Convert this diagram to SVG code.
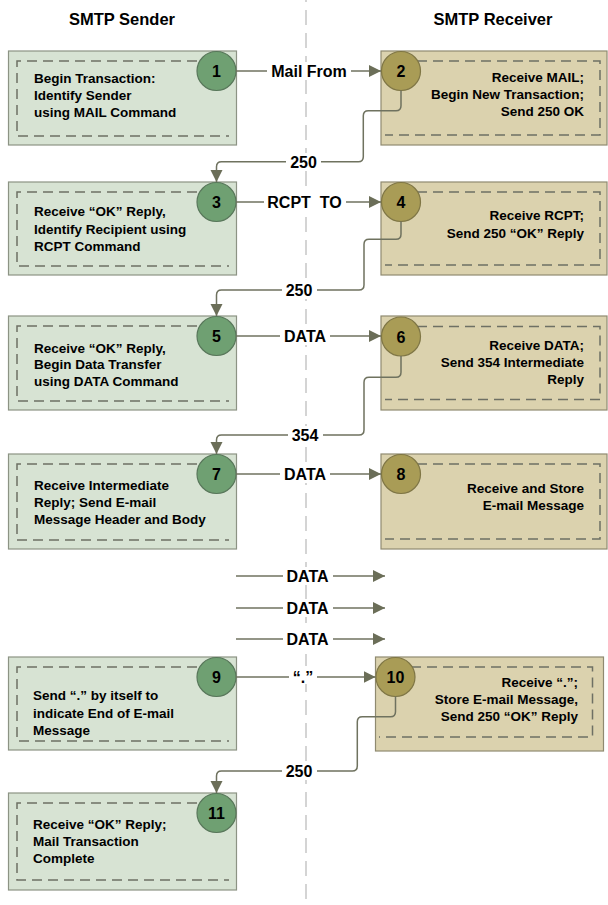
<svg xmlns="http://www.w3.org/2000/svg" width="608" height="905" viewBox="0 0 608 905">
<defs>
<style>
text{font-family:"Liberation Sans",Arial,sans-serif;font-weight:bold;fill:#000}
.title{font-size:16.5px;text-anchor:middle}
.lbl{font-size:16px;text-anchor:middle}
.bt{font-size:13.5px}
.rt{font-size:13.5px;text-anchor:end}
.num{font-size:16px;text-anchor:middle}
.lbox{fill:#d7e3d3;stroke:#8c9384;stroke-width:1.2}
.rbox{fill:#dbd2ae;stroke:#8f8a70;stroke-width:1.2}
.inner{fill:none;stroke:#6e7064;stroke-width:1.5;stroke-dasharray:10 6}
.lc{fill:#6fa072;stroke:#58775a;stroke-width:1.2}
.rc{fill:#a99c56;stroke:#7f7645;stroke-width:1.2}
.con{fill:none;stroke:#6f725f;stroke-width:1.5}
.bg{fill:#fff}
</style>
<marker id="ah" markerUnits="userSpaceOnUse" markerWidth="13" markerHeight="13" refX="12" refY="6" orient="auto">
<path d="M0,0 L12,6 L0,12 z" fill="#6b6e58"/>
</marker>
</defs>
<rect width="608" height="905" fill="#fff"/>
<line x1="306" y1="0" x2="306" y2="905" stroke="#c6c6c6" stroke-width="1.5" stroke-dasharray="15 8" stroke-dashoffset="13"/>
<text class="title" x="122" y="25">SMTP Sender</text>
<text class="title" x="493" y="25">SMTP Receiver</text>

<g id="node1">
<rect class="lbox" x="8.5" y="51" width="228" height="94"/>
<path class="inner" d="M229,61 H17 V136 H229"/>
<circle class="lc" cx="216.5" cy="71" r="19.5"/>
<text class="num" x="216.5" y="77">1</text>
<text class="bt" x="34" y="83">Begin Transaction:</text>
<text class="bt" x="34" y="100">Identify Sender</text>
<text class="bt" x="34" y="117">using MAIL Command</text>
</g>
<g id="node2">
<rect class="rbox" x="381" y="51" width="226" height="94"/>
<path class="inner" d="M385,61 H600 V135 H385"/>
<circle class="rc" cx="401" cy="71" r="19.5"/>
<text class="num" x="401" y="77">2</text>
<text class="rt" x="584" y="82">Receive MAIL;</text>
<text class="rt" x="584" y="99">Begin New Transaction;</text>
<text class="rt" x="584" y="116">Send 250 OK</text>
</g>
<g id="node3">
<rect class="lbox" x="8.5" y="182" width="228" height="93"/>
<path class="inner" d="M229,192 H17 V266 H229"/>
<circle class="lc" cx="216.5" cy="202" r="19.5"/>
<text class="num" x="216.5" y="208">3</text>
<text class="bt" x="34" y="216">Receive “OK” Reply,</text>
<text class="bt" x="34" y="233.5">Identify Recipient using</text>
<text class="bt" x="34" y="251">RCPT Command</text>
</g>
<g id="node4">
<rect class="rbox" x="381" y="182" width="226" height="93"/>
<path class="inner" d="M385,192 H600 V265 H385"/>
<circle class="rc" cx="401" cy="202" r="19.5"/>
<text class="num" x="401" y="208">4</text>
<text class="rt" x="584" y="220">Receive RCPT;</text>
<text class="rt" x="584" y="238">Send 250 “OK” Reply</text>
</g>
<g id="node5">
<rect class="lbox" x="8.5" y="316" width="228" height="94"/>
<path class="inner" d="M229,326 H17 V401 H229"/>
<circle class="lc" cx="216.5" cy="336" r="19.5"/>
<text class="num" x="216.5" y="342">5</text>
<text class="bt" x="34" y="352.5">Receive “OK” Reply,</text>
<text class="bt" x="34" y="369">Begin Data Transfer</text>
<text class="bt" x="34" y="385.5">using DATA Command</text>
</g>
<g id="node6">
<rect class="rbox" x="381" y="316" width="226" height="94"/>
<path class="inner" d="M385,326.5 H600 V399.5 H385"/>
<circle class="rc" cx="401" cy="336.5" r="19.5"/>
<text class="num" x="401" y="342.5">6</text>
<text class="rt" x="584" y="350">Receive DATA;</text>
<text class="rt" x="584" y="367">Send 354 Intermediate</text>
<text class="rt" x="584" y="384">Reply</text>
</g>
<g id="node7">
<rect class="lbox" x="8.5" y="454" width="228" height="95"/>
<path class="inner" d="M229,464 H17 V540 H229"/>
<circle class="lc" cx="216.5" cy="474" r="19.5"/>
<text class="num" x="216.5" y="480">7</text>
<text class="bt" x="34" y="489.5">Receive Intermediate</text>
<text class="bt" x="34" y="506.5">Reply; Send E-mail</text>
<text class="bt" x="34" y="523.5">Message Header and Body</text>
</g>
<g id="node8">
<rect class="rbox" x="381" y="454" width="226" height="95"/>
<path class="inner" d="M385,464 H600 V539 H385"/>
<circle class="rc" cx="401" cy="474" r="19.5"/>
<text class="num" x="401" y="480">8</text>
<text class="rt" x="584" y="492.5">Receive and Store</text>
<text class="rt" x="584" y="509.5">E-mail Message</text>
</g>
<g id="node9">
<rect class="lbox" x="8.5" y="657" width="228" height="93"/>
<path class="inner" d="M229,667 H17 V741 H229"/>
<circle class="lc" cx="216.5" cy="677" r="19.5"/>
<text class="num" x="216.5" y="683">9</text>
<text class="bt" x="33" y="700">Send “.” by itself to</text>
<text class="bt" x="33" y="717.5">indicate End of E-mail</text>
<text class="bt" x="33" y="735">Message</text>
</g>
<g id="node10">
<rect class="rbox" x="375.5" y="657" width="228" height="94"/>
<path class="inner" d="M379,667 H592.5 V737 H379"/>
<circle class="rc" cx="395.5" cy="677" r="19.5"/>
<text class="num" x="395.5" y="683">10</text>
<text class="rt" x="578" y="687">Receive “.”;</text>
<text class="rt" x="578" y="703.5">Store E-mail Message,</text>
<text class="rt" x="578" y="720.5">Send 250 “OK” Reply</text>
</g>
<g id="node11">
<rect class="lbox" x="8.5" y="793" width="228" height="97"/>
<path class="inner" d="M229,803 H17 V880 H229"/>
<circle class="lc" cx="216.5" cy="813" r="19.5"/>
<text class="num" x="216.5" y="819">11</text>
<text class="bt" x="33" y="828.5">Receive “OK” Reply;</text>
<text class="bt" x="33" y="845.5">Mail Transaction</text>
<text class="bt" x="33" y="862.5">Complete</text>
</g>

<g id="connectors">
<path class="con" d="M236,71 H381" marker-end="url(#ah)"/>
<path class="con" d="M236,202 H381" marker-end="url(#ah)"/>
<path class="con" d="M236,336 H381" marker-end="url(#ah)"/>
<path class="con" d="M236,474 H381" marker-end="url(#ah)"/>
<path class="con" d="M236,576 H385" marker-end="url(#ah)"/>
<path class="con" d="M236,608 H385" marker-end="url(#ah)"/>
<path class="con" d="M236,639 H385" marker-end="url(#ah)"/>
<path class="con" d="M236,677 H375.5" marker-end="url(#ah)"/>
<path class="con" d="M401,90.5 V105.7 Q401,110.7 396,110.7 H368.3 Q363.3,110.7 363.3,115.7 V156.7 Q363.3,161.7 358.3,161.7 H221.5 Q216.5,161.7 216.5,166.7 V182" marker-end="url(#ah)"/>
<path class="con" d="M401,221.5 V234.3 Q401,239.3 396,239.3 H369 Q364,239.3 364,244.3 V285 Q364,290 359,290 H221.5 Q216.5,290 216.5,295 V316" marker-end="url(#ah)"/>
<path class="con" d="M401,356 V372.3 Q401,377.3 396,377.3 H369 Q364,377.3 364,382.3 V430 Q364,435 359,435 H221.5 Q216.5,435 216.5,440 V454" marker-end="url(#ah)"/>
<path class="con" d="M395.5,696.5 V711.7 Q395.5,716.7 390.5,716.7 H362.3 Q357.3,716.7 357.3,721.7 V766 Q357.3,771 352.3,771 H221.5 Q216.5,771 216.5,776 V793" marker-end="url(#ah)"/>
<rect class="bg" x="267" y="62" width="84" height="18"/>
<text class="lbl" x="309" y="77">Mail From</text>
<rect class="bg" x="264" y="193" width="82" height="18"/>
<text class="lbl" x="304.5" y="208">RCPT&#160; TO</text>
<rect class="bg" x="280" y="327" width="50" height="18"/>
<text class="lbl" x="305" y="342">DATA</text>
<rect class="bg" x="280" y="465" width="50" height="18"/>
<text class="lbl" x="305" y="480">DATA</text>
<rect class="bg" x="283" y="567" width="50" height="18"/>
<text class="lbl" x="307.5" y="582">DATA</text>
<rect class="bg" x="283" y="599" width="50" height="18"/>
<text class="lbl" x="307.5" y="614">DATA</text>
<rect class="bg" x="283" y="630" width="50" height="18"/>
<text class="lbl" x="307.5" y="645">DATA</text>
<rect class="bg" x="289" y="666" width="28" height="18"/>
<text class="lbl" x="303" y="683">“.”</text>
<rect class="bg" x="286" y="153" width="35" height="18"/>
<text class="lbl" x="303.5" y="167.5">250</text>
<rect class="bg" x="282" y="281" width="35" height="18"/>
<text class="lbl" x="299" y="296">250</text>
<rect class="bg" x="288" y="426" width="35" height="18"/>
<text class="lbl" x="305" y="441">354</text>
<rect class="bg" x="282" y="762" width="35" height="18"/>
<text class="lbl" x="299" y="777">250</text>
</g>
</svg>
